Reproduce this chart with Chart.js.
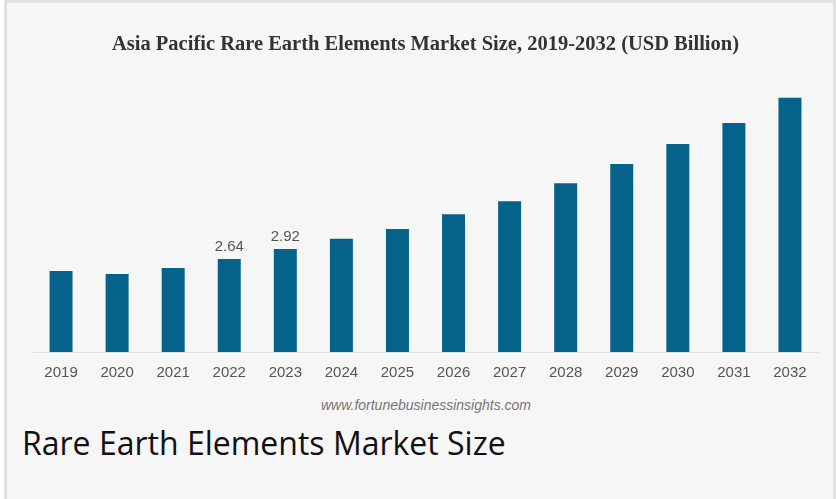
<!DOCTYPE html>
<html>
<head>
<meta charset="utf-8">
<script src="https://cdn.jsdelivr.net/npm/chart.js@4/dist/chart.umd.min.js"></script>
<style>
  html, body { margin: 0; padding: 0; background: #fff; }
  .frame {
    position: absolute; left: 4px; top: 0; width: 826px; height: 499px;
    background: #f6f6f6;
    border-left: 3px solid #e2e2e2; border-top: 3px solid #e2e2e2; border-right: 3px solid #e2e2e2;
  }
  .chart-box { position: absolute; left: 0; top: 0; width: 836px; height: 393px; }
  .source {
    position: absolute; left: 0; width: 852px; top: 397px; text-align: center;
    font: italic 14px "Liberation Sans", Arial, sans-serif; color: #777;
  }
  .caption {
    position: absolute; left: 22px; top: 424px; line-height: 1.2;
    font-family: "Open Sans", sans-serif; font-size: 32px; color: #111;
  }
</style>
</head>
<body>
<div class="frame"></div>
<div class="chart-box"><canvas id="marketChart"></canvas></div>
<div class="source">www.fortunebusinessinsights.com</div>
<div class="caption">Rare Earth Elements Market Size</div>
<script>
const years = ['2019', '2020', '2021', '2022', '2023', '2024', '2025', '2026', '2027', '2028', '2029', '2030', '2031', '2032'];
const marketSize = [2.30, 2.21, 2.38, 2.64, 2.92, 3.21, 3.49, 3.91, 4.28, 4.79, 5.33, 5.90, 6.50, 7.21];
// only these two bars carry a value label in the source
const labelledYears = ['2022', '2023'];

// small plugin for the value labels above bars
const valueLabels = {
    id: 'valueLabels',
    afterDatasetsDraw(chart) {
        const ctx = chart.ctx;
        const meta = chart.getDatasetMeta(0);
        ctx.save();
        ctx.font = '15px "Liberation Sans", Arial, sans-serif';
        ctx.fillStyle = '#555';
        ctx.textAlign = 'center';
        ctx.textBaseline = 'middle';
        meta.data.forEach((bar, i) => {
            if (!labelledYears.includes(years[i])) return;
            ctx.fillText(marketSize[i].toFixed(2), bar.x, bar.y - 12);
        });
        ctx.restore();
    }
};

const ctx = document.getElementById('marketChart').getContext('2d');
const marketChart = new Chart(ctx, {
    type: 'bar',
    data: {
        labels: years,
        datasets: [{
            label: 'Market Size (USD Billion)',
            data: marketSize,
            backgroundColor: '#04628b',
            barPercentage: 0.41,
            categoryPercentage: 1
        }]
    },
    options: {
        responsive: true,
        maintainAspectRatio: false,
        animation: false,
        layout: { padding: { left: 33, right: 18, top: 0, bottom: 0 } },
        plugins: {
            legend: { display: false },
            tooltip: { enabled: false },
            title: {
                display: true,
                text: 'Asia Pacific Rare Earth Elements Market Size, 2019-2032 (USD Billion)',
                color: '#333',
                font: { family: '"Liberation Serif", "Times New Roman", serif', size: 20.5, weight: 'bold' },
                padding: { top: 32, bottom: 13.4 }
            }
        },
        scales: {
            x: {
                grid: { display: false, drawTicks: false },
                border: { display: true, color: '#e0e0e0', width: 1 },
                ticks: {
                    color: '#555',
                    font: { family: '"Liberation Sans", Arial, sans-serif', size: 15 },
                    padding: 11.5,
                    maxRotation: 0
                }
            },
            y: {
                display: false,
                min: 0,
                max: 8
            }
        }
    },
    plugins: [valueLabels]
});
</script>
</body>
</html>
